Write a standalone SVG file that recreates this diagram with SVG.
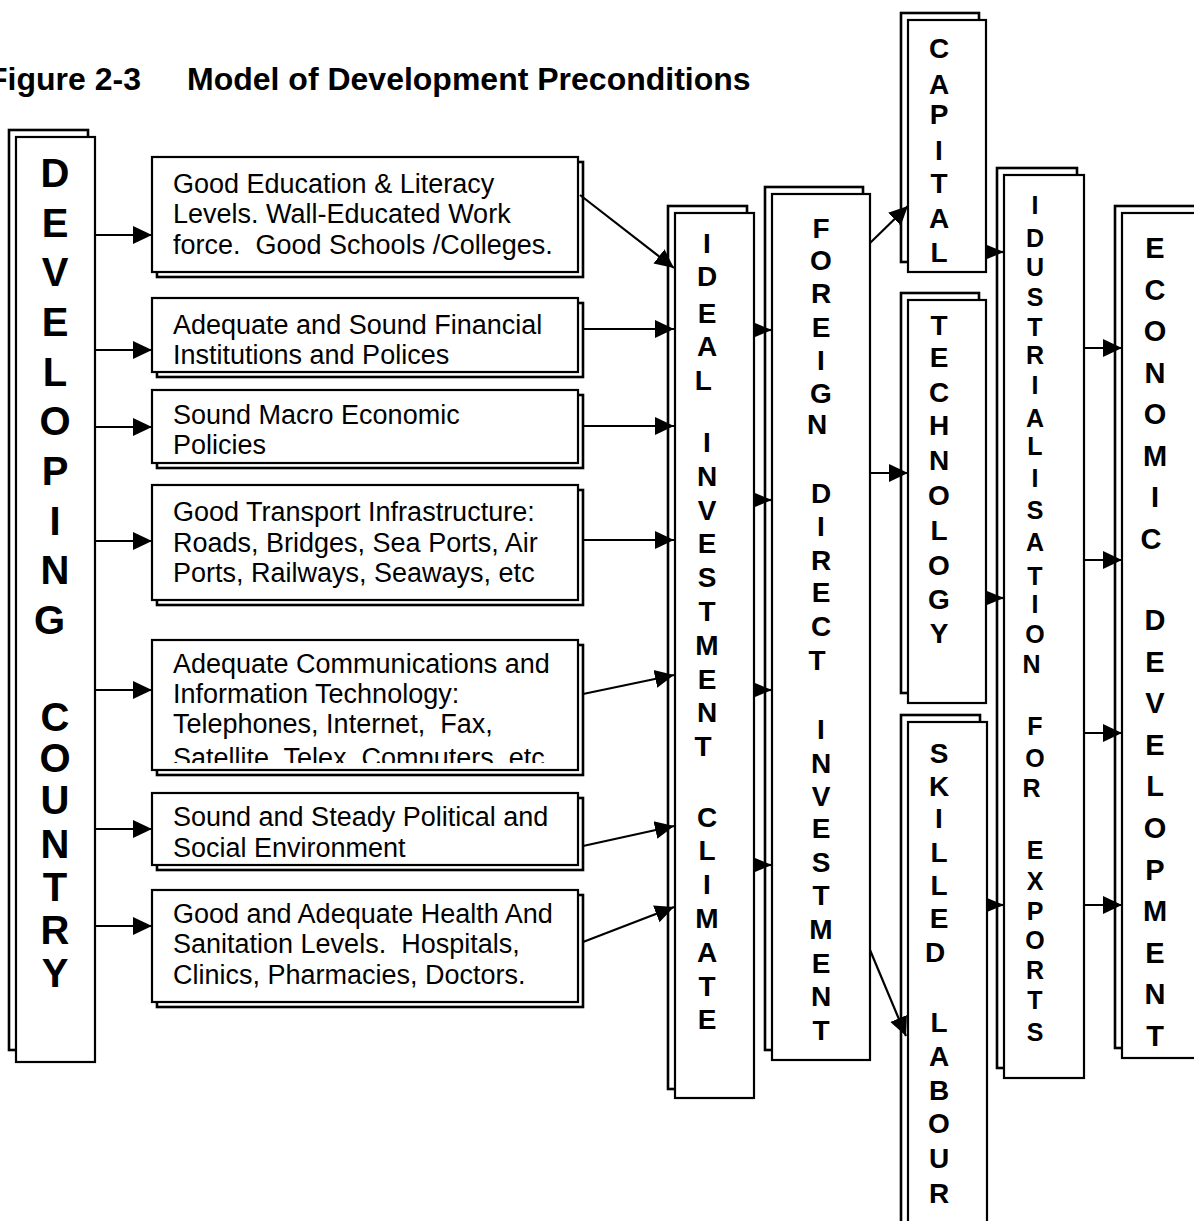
<svg xmlns="http://www.w3.org/2000/svg" width="1194" height="1221" viewBox="0 0 1194 1221">
  <defs>
    <marker id="head" markerUnits="userSpaceOnUse" markerWidth="20" markerHeight="20" refX="19" refY="10" orient="auto">
      <path d="M0,1 L19,10 L0,19 z" fill="#000"/>
    </marker>
    <marker id="headSmall" markerUnits="userSpaceOnUse" markerWidth="18" markerHeight="18" refX="17" refY="8" orient="auto">
      <path d="M0,1 L17,8 L0,15 z" fill="#000"/>
    </marker>
    <clipPath id="clipComms">
      <rect x="152" y="640" width="426" height="123"/>
    </clipPath>
  </defs>
  <style>
    .box { fill: #fff; stroke: #000; stroke-width: 2.2; }
    .shadow { fill: #fff; stroke: #000; stroke-width: 2.6; }
    .txt { font-family: "Liberation Sans", Arial, sans-serif; font-size: 27px; fill: #000; }
    .col { font-family: "Liberation Sans", Arial, sans-serif; font-weight: bold; fill: #000; text-anchor: middle; }
    .title { font-family: "Liberation Sans", Arial, sans-serif; font-weight: bold; font-size: 32px; fill: #000; }
    .link { stroke: #000; stroke-width: 2.2; fill: none; marker-end: url(#head); }
    .link2 { stroke: #000; stroke-width: 2.2; fill: none; marker-end: url(#headSmall); }
  </style>
  <rect width="1194" height="1221" fill="#fff"/>

  <!-- heading -->
  <text class="title" x="-12" y="90">Figure 2-3</text>
  <text class="title" x="187" y="90">Model of Development Preconditions</text>

  <!-- left column -->
  <g id="developing-country">
    <rect class="shadow" x="9" y="130" width="79" height="920"/>
    <rect class="box" x="16" y="137" width="79" height="925"/>
    <text class="col" style="font-size:40px">
      <tspan x="55" y="187">D</tspan><tspan x="55" y="237">E</tspan><tspan x="55" y="286">V</tspan><tspan x="55" y="336">E</tspan><tspan x="55" y="386">L</tspan><tspan x="55" y="435">O</tspan><tspan x="55" y="485">P</tspan><tspan x="55" y="535">I</tspan><tspan x="55" y="584">N</tspan><tspan x="55" y="634">G</tspan>
      <tspan x="55" y="731">C</tspan><tspan x="55" y="772">O</tspan><tspan x="55" y="814">U</tspan><tspan x="55" y="858">N</tspan><tspan x="55" y="901">T</tspan><tspan x="55" y="944">R</tspan><tspan x="55" y="987">Y</tspan>
    </text>
  </g>

  <!-- precondition boxes -->
  <g id="education">
    <rect class="shadow" x="157" y="162" width="426" height="115"/>
    <rect class="box" x="152" y="157" width="426" height="115"/>
    <text class="txt"><tspan x="173" y="193">Good Education &amp; Literacy</tspan><tspan x="173" y="223">Levels. Wall-Educated Work</tspan><tspan x="173" y="254">force.&#160; Good Schools /Colleges.</tspan></text>
  </g>
  <g id="financial">
    <rect class="shadow" x="157" y="303" width="426" height="74"/>
    <rect class="box" x="152" y="298" width="426" height="74"/>
    <text class="txt"><tspan x="173" y="334">Adequate and Sound Financial</tspan><tspan x="173" y="364">Institutions and Polices</tspan></text>
  </g>
  <g id="macro">
    <rect class="shadow" x="157" y="395" width="426" height="73"/>
    <rect class="box" x="152" y="390" width="426" height="73"/>
    <text class="txt"><tspan x="173" y="424">Sound Macro Economic</tspan><tspan x="173" y="454">Policies</tspan></text>
  </g>
  <g id="transport">
    <rect class="shadow" x="157" y="490" width="426" height="115"/>
    <rect class="box" x="152" y="485" width="426" height="115"/>
    <text class="txt"><tspan x="173" y="521">Good Transport Infrastructure:</tspan><tspan x="173" y="552">Roads, Bridges, Sea Ports, Air</tspan><tspan x="173" y="582">Ports, Railways, Seaways, etc</tspan></text>
  </g>
  <g id="communications">
    <rect class="shadow" x="157" y="645" width="426" height="130"/>
    <rect class="box" x="152" y="640" width="426" height="130"/>
    <text class="txt" clip-path="url(#clipComms)"><tspan x="173" y="673">Adequate Communications and</tspan><tspan x="173" y="703">Information Technology:</tspan><tspan x="173" y="733">Telephones, Internet,&#160; Fax,</tspan><tspan x="173" y="767">Satellite, Telex, Computers, etc</tspan></text>
  </g>
  <g id="political">
    <rect class="shadow" x="157" y="798" width="426" height="72"/>
    <rect class="box" x="152" y="793" width="426" height="72"/>
    <text class="txt"><tspan x="173" y="826">Sound and Steady Political and</tspan><tspan x="173" y="857">Social Environment</tspan></text>
  </g>
  <g id="health">
    <rect class="shadow" x="157" y="895" width="426" height="112"/>
    <rect class="box" x="152" y="890" width="426" height="112"/>
    <text class="txt"><tspan x="173" y="923">Good and Adequate Health And</tspan><tspan x="173" y="953">Sanitation Levels.&#160; Hospitals,</tspan><tspan x="173" y="984">Clinics, Pharmacies, Doctors.</tspan></text>
  </g>

  <!-- investment climate -->
  <g id="ideal-investment-climate">
    <rect class="shadow" x="668" y="206" width="79" height="883"/>
    <rect class="box" x="675" y="213" width="79" height="885"/>
    <text class="col" style="font-size:28px">
      <tspan x="707" y="253">I</tspan><tspan x="707" y="286">D</tspan><tspan x="707" y="323">E</tspan><tspan x="707" y="356">A</tspan><tspan x="707" y="390">L</tspan>
      <tspan x="707" y="452">I</tspan><tspan x="707" y="486">N</tspan><tspan x="707" y="520">V</tspan><tspan x="707" y="553">E</tspan><tspan x="707" y="587">S</tspan><tspan x="707" y="621">T</tspan><tspan x="707" y="655">M</tspan><tspan x="707" y="689">E</tspan><tspan x="707" y="722">N</tspan><tspan x="707" y="756">T</tspan>
      <tspan x="707" y="827">C</tspan><tspan x="707" y="860">L</tspan><tspan x="707" y="894">I</tspan><tspan x="707" y="928">M</tspan><tspan x="707" y="962">A</tspan><tspan x="707" y="996">T</tspan><tspan x="707" y="1029">E</tspan>
    </text>
  </g>

  <!-- foreign direct investment -->
  <g id="foreign-direct-investment">
    <rect class="shadow" x="765" y="187" width="98" height="863"/>
    <rect class="box" x="772" y="194" width="98" height="866"/>
    <text class="col" style="font-size:28px">
      <tspan x="821" y="238">F</tspan><tspan x="821" y="270">O</tspan><tspan x="821" y="303">R</tspan><tspan x="821" y="337">E</tspan><tspan x="821" y="370">I</tspan><tspan x="821" y="403">G</tspan><tspan x="821" y="434">N</tspan>
      <tspan x="821" y="503">D</tspan><tspan x="821" y="536">I</tspan><tspan x="821" y="570">R</tspan><tspan x="821" y="602">E</tspan><tspan x="821" y="636">C</tspan><tspan x="821" y="670">T</tspan>
      <tspan x="821" y="739">I</tspan><tspan x="821" y="773">N</tspan><tspan x="821" y="806">V</tspan><tspan x="821" y="838">E</tspan><tspan x="821" y="872">S</tspan><tspan x="821" y="905">T</tspan><tspan x="821" y="939">M</tspan><tspan x="821" y="973">E</tspan><tspan x="821" y="1006">N</tspan><tspan x="821" y="1040">T</tspan>
    </text>
  </g>

  <!-- inputs -->
  <g id="capital">
    <rect class="shadow" x="901" y="13" width="78" height="249"/>
    <rect class="box" x="908" y="20" width="78" height="252"/>
    <text class="col" style="font-size:28px">
      <tspan x="939" y="58">C</tspan><tspan x="939" y="94">A</tspan><tspan x="939" y="124">P</tspan><tspan x="939" y="160">I</tspan><tspan x="939" y="193">T</tspan><tspan x="939" y="228">A</tspan><tspan x="939" y="262">L</tspan>
    </text>
  </g>
  <g id="technology">
    <rect class="shadow" x="901" y="293" width="78" height="400"/>
    <rect class="box" x="908" y="300" width="78" height="403"/>
    <text class="col" style="font-size:28px">
      <tspan x="939" y="335">T</tspan><tspan x="939" y="367">E</tspan><tspan x="939" y="402">C</tspan><tspan x="939" y="435">H</tspan><tspan x="939" y="470">N</tspan><tspan x="939" y="505">O</tspan><tspan x="939" y="540">L</tspan><tspan x="939" y="575">O</tspan><tspan x="939" y="609">G</tspan><tspan x="939" y="643">Y</tspan>
    </text>
  </g>
  <g id="skilled-labour">
    <rect class="shadow" x="901" y="715" width="79" height="520"/>
    <rect class="box" x="908" y="722" width="79" height="520"/>
    <text class="col" style="font-size:28px">
      <tspan x="939" y="763">S</tspan><tspan x="939" y="796">K</tspan><tspan x="939" y="828">I</tspan><tspan x="939" y="862">L</tspan><tspan x="939" y="895">L</tspan><tspan x="939" y="928">E</tspan><tspan x="939" y="962">D</tspan>
      <tspan x="939" y="1032">L</tspan><tspan x="939" y="1066">A</tspan><tspan x="939" y="1100">B</tspan><tspan x="939" y="1133">O</tspan><tspan x="939" y="1168">U</tspan><tspan x="939" y="1203">R</tspan>
    </text>
  </g>

  <!-- industrialisation -->
  <g id="industrialisation-for-exports">
    <rect class="shadow" x="997" y="168" width="80" height="900"/>
    <rect class="box" x="1004" y="175" width="80" height="903"/>
    <text class="col" style="font-size:25px">
      <tspan x="1035" y="214">I</tspan><tspan x="1035" y="247">D</tspan><tspan x="1035" y="276">U</tspan><tspan x="1035" y="306">S</tspan><tspan x="1035" y="336">T</tspan><tspan x="1035" y="364">R</tspan><tspan x="1035" y="394">I</tspan><tspan x="1035" y="427">A</tspan><tspan x="1035" y="455">L</tspan><tspan x="1035" y="487">I</tspan><tspan x="1035" y="519">S</tspan><tspan x="1035" y="551">A</tspan><tspan x="1035" y="585">T</tspan><tspan x="1035" y="613">I</tspan><tspan x="1035" y="643">O</tspan><tspan x="1035" y="673">N</tspan>
      <tspan x="1035" y="735">F</tspan><tspan x="1035" y="767">O</tspan><tspan x="1035" y="797">R</tspan>
      <tspan x="1035" y="859">E</tspan><tspan x="1035" y="890">X</tspan><tspan x="1035" y="920">P</tspan><tspan x="1035" y="949">O</tspan><tspan x="1035" y="979">R</tspan><tspan x="1035" y="1009">T</tspan><tspan x="1035" y="1041">S</tspan>
    </text>
  </g>

  <!-- outcome -->
  <g id="economic-development">
    <rect class="shadow" x="1115" y="206" width="90" height="842"/>
    <rect class="box" x="1122" y="213" width="90" height="845"/>
    <text class="col" style="font-size:29px">
      <tspan x="1155" y="258">E</tspan><tspan x="1155" y="300">C</tspan><tspan x="1155" y="341">O</tspan><tspan x="1155" y="383">N</tspan><tspan x="1155" y="424">O</tspan><tspan x="1155" y="466">M</tspan><tspan x="1155" y="507">I</tspan><tspan x="1155" y="549">C</tspan>
      <tspan x="1155" y="630">D</tspan><tspan x="1155" y="672">E</tspan><tspan x="1155" y="713">V</tspan><tspan x="1155" y="755">E</tspan><tspan x="1155" y="796">L</tspan><tspan x="1155" y="838">O</tspan><tspan x="1155" y="880">P</tspan><tspan x="1155" y="921">M</tspan><tspan x="1155" y="963">E</tspan><tspan x="1155" y="1004">N</tspan><tspan x="1155" y="1046">T</tspan>
    </text>
  </g>

  <!-- connectors -->
  <g id="connectors">
    <line class="link" x1="95" y1="235" x2="152" y2="235"/>
    <line class="link" x1="95" y1="350" x2="152" y2="350"/>
    <line class="link" x1="95" y1="427" x2="152" y2="427"/>
    <line class="link" x1="95" y1="541" x2="152" y2="541"/>
    <line class="link" x1="95" y1="690" x2="152" y2="690"/>
    <line class="link" x1="95" y1="829" x2="152" y2="829"/>
    <line class="link" x1="95" y1="926" x2="152" y2="926"/>

    <line class="link" x1="580" y1="195" x2="674" y2="268"/>
    <line class="link" x1="583" y1="329" x2="674" y2="329"/>
    <line class="link" x1="583" y1="426" x2="674" y2="426"/>
    <line class="link" x1="583" y1="540" x2="674" y2="540"/>
    <line class="link" x1="583" y1="694" x2="674" y2="675"/>
    <line class="link" x1="583" y1="846" x2="674" y2="826"/>
    <line class="link" x1="583" y1="942" x2="674" y2="907"/>

    <line class="link2" x1="754" y1="330" x2="772" y2="330"/>
    <line class="link2" x1="754" y1="500" x2="772" y2="500"/>
    <line class="link2" x1="754" y1="690" x2="772" y2="690"/>
    <line class="link2" x1="754" y1="865" x2="772" y2="865"/>

    <line class="link" x1="870" y1="243" x2="908" y2="206"/>
    <line class="link" x1="870" y1="473" x2="908" y2="473"/>
    <line class="link" x1="870" y1="950" x2="906" y2="1036"/>

    <line class="link2" x1="986" y1="252" x2="1004" y2="252"/>
    <line class="link2" x1="986" y1="598" x2="1004" y2="598"/>
    <line class="link2" x1="987" y1="905" x2="1004" y2="905"/>

    <line class="link" x1="1084" y1="348" x2="1122" y2="348"/>
    <line class="link" x1="1084" y1="560" x2="1122" y2="560"/>
    <line class="link" x1="1084" y1="733" x2="1122" y2="733"/>
    <line class="link" x1="1084" y1="905" x2="1122" y2="905"/>
  </g>
</svg>
